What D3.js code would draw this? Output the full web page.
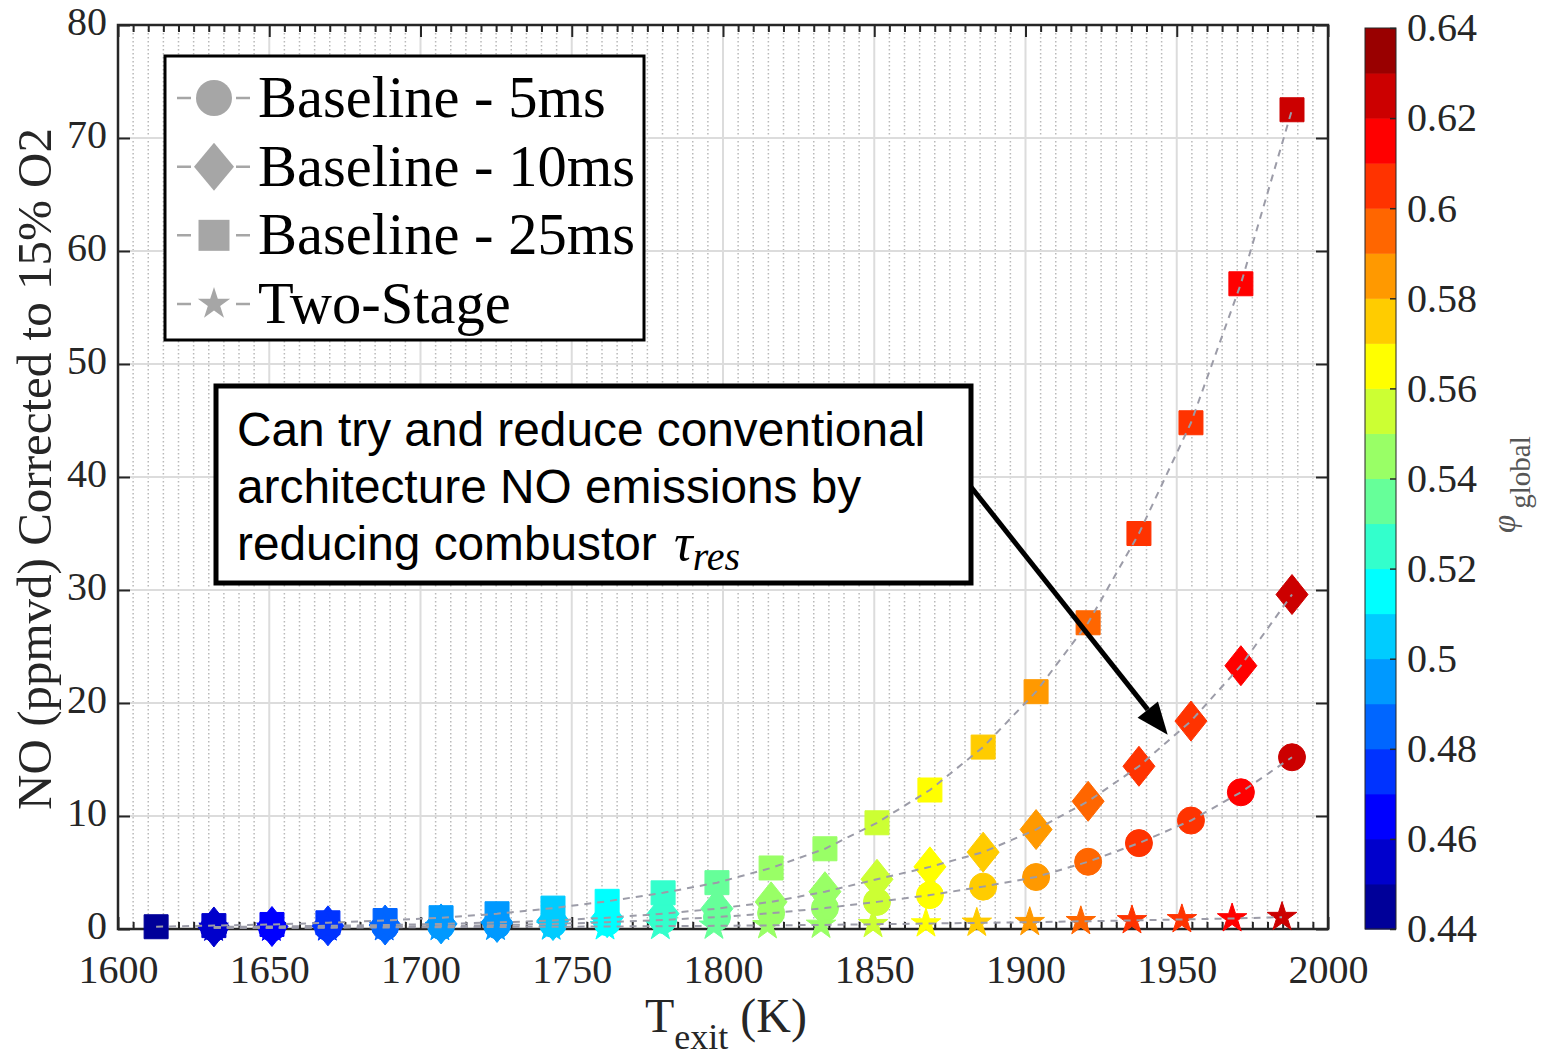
<!DOCTYPE html>
<html>
<head>
<meta charset="utf-8">
<script src="https://cdn.jsdelivr.net/npm/d3@7"></script>
<style>
  body { margin: 0; background: #fff; }
  svg { display: block; }
</style>
</head>
<body>
<svg id="chart" width="1545" height="1060"></svg>
<script>
// ---- data ---------------------------------------------------------------
// Exit temperature (K) of the baseline combustor, one entry per phi_global
const tBaseline = [1612.6, 1631.7, 1650.9, 1669.4, 1688.3, 1706.8, 1725.3, 1743.8, 1761.7, 1780.2, 1798.0,
                   1815.9, 1833.7, 1850.9, 1868.4, 1886.0, 1903.5, 1920.7, 1937.5, 1954.7, 1971.2, 1988.1];
// Global equivalence ratio for each operating point
const phiGlobal = [0.444, 0.453, 0.462, 0.471, 0.481, 0.492, 0.499, 0.507, 0.515, 0.524, 0.533,
                   0.541, 0.549, 0.557, 0.566, 0.575, 0.584, 0.593, 0.601, 0.609, 0.617, 0.626];
// NO (ppmvd @ 15% O2), baseline with 25 ms residence time (all points)
const no25ms = [0.2, 0.3, 0.4, 0.55, 0.75, 1.0, 1.35, 1.85, 2.45, 3.2, 4.1,
                5.4, 7.1, 9.4, 12.3, 16.1, 21.0, 27.1, 35.0, 44.8, 57.1, 72.5];
// Remaining series start at the second operating point
const no10ms = [0.18, 0.22, 0.28, 0.35, 0.45, 0.58, 0.75, 1.0, 1.35, 1.8,
                2.4, 3.3, 4.4, 5.5, 6.8, 8.8, 11.3, 14.4, 18.4, 23.3, 29.6];
const no5ms = [0.1, 0.12, 0.15, 0.2, 0.26, 0.34, 0.45, 0.6, 0.8, 1.05,
               1.4, 1.85, 2.4, 3.0, 3.75, 4.6, 5.95, 7.6, 9.6, 12.1, 15.2];
// Two-stage architecture: slightly lower exit temperature at the same phi
const tTwoStage = [1631.6, 1650.7, 1669.2, 1688.0, 1706.4, 1724.8, 1743.2, 1761.0, 1779.3, 1797.0,
                   1814.7, 1832.4, 1849.6, 1867.1, 1883.9, 1901.4, 1918.3, 1935.2, 1951.7, 1968.3, 1984.8];
const noTwoStage = [0.1, 0.1, 0.12, 0.14, 0.16, 0.18, 0.2, 0.22, 0.25, 0.28,
                    0.32, 0.36, 0.42, 0.48, 0.54, 0.6, 0.68, 0.76, 0.85, 0.93, 1.05];

const xTicks = [1600, 1650, 1700, 1750, 1800, 1850, 1900, 1950, 2000];
const yTicks = [0, 10, 20, 30, 40, 50, 60, 70, 80];
const cTicks = [0.44, 0.46, 0.48, 0.5, 0.52, 0.54, 0.56, 0.58, 0.6, 0.62, 0.64];
const legendLabels = ["Baseline - 5ms", "Baseline - 10ms", "Baseline - 25ms", "Two-Stage"];
const noteLines = ["Can try and reduce conventional", "architecture NO emissions by", "reducing combustor "];

// 20-level jet colormap
const jet20 = ["#000099", "#0000cc", "#0000ff", "#0033ff", "#0066ff", "#0099ff", "#00ccff", "#00ffff",
               "#33ffcc", "#66ff99", "#99ff66", "#ccff33", "#ffff00", "#ffcc00", "#ff9900", "#ff6600",
               "#ff3300", "#ff0000", "#cc0000", "#990000"];

// ---- layout -------------------------------------------------------------
const svg = d3.select("#chart");
const P = { left: 118, right: 1328, top: 25, bottom: 929 };
const serif = "'Liberation Serif', 'Times New Roman', serif";
const sans = "'Liberation Sans', Arial, sans-serif";
const axisInk = "#262626";

const x = d3.scaleLinear().domain([1600, 2000]).range([P.left, P.right]);
const y = d3.scaleLinear().domain([0, 80]).range([P.bottom, P.top]);
const color = d3.scaleQuantize().domain([0.44, 0.64]).range(jet20);

// ---- grid ---------------------------------------------------------------
const grid = svg.append("g");
const minorX = d3.range(1605, 2000, 5).filter(v => v % 50 !== 0);
grid.selectAll("line.minor").data(minorX).join("line")
  .attr("x1", d => x(d)).attr("x2", d => x(d))
  .attr("y1", P.top).attr("y2", P.bottom)
  .attr("stroke", "#b9b9b9").attr("stroke-width", 1.5)
  .attr("stroke-dasharray", "1.5,2.5");
grid.selectAll("line.mx").data(xTicks.slice(1, -1)).join("line")
  .attr("x1", d => x(d)).attr("x2", d => x(d))
  .attr("y1", P.top).attr("y2", P.bottom)
  .attr("stroke", "#dcdcdc").attr("stroke-width", 2);
grid.selectAll("line.my").data(yTicks.slice(1, -1)).join("line")
  .attr("x1", P.left).attr("x2", P.right)
  .attr("y1", d => y(d)).attr("y2", d => y(d))
  .attr("stroke", "#dcdcdc").attr("stroke-width", 2);

// ---- axes ---------------------------------------------------------------
function styleAxis(g) {
  g.select(".domain").remove();
  g.selectAll(".tick line").attr("stroke", axisInk).attr("stroke-width", 2);
  g.selectAll(".tick text").attr("fill", axisInk).attr("font-family", serif).attr("font-size", 40);
}
svg.append("g").attr("transform", `translate(0,${P.bottom})`)
  .call(d3.axisBottom(x).tickValues(xTicks).tickSize(-12).tickPadding(26).tickFormat(d3.format("d")))
  .call(styleAxis);
svg.append("g").attr("transform", `translate(0,${P.bottom})`)
  .call(d3.axisBottom(x).tickValues(minorX).tickSize(-7).tickFormat(""))
  .call(styleAxis);
svg.append("g").attr("transform", `translate(0,${P.top})`)
  .call(d3.axisTop(x).tickValues(xTicks).tickSize(-12).tickFormat(""))
  .call(styleAxis);
svg.append("g").attr("transform", `translate(0,${P.top})`)
  .call(d3.axisTop(x).tickValues(minorX).tickSize(-7).tickFormat(""))
  .call(styleAxis);
svg.append("g").attr("transform", `translate(${P.left},0)`)
  .call(d3.axisLeft(y).tickValues(yTicks).tickSize(-12).tickPadding(11).tickFormat(d3.format("d")))
  .call(styleAxis)
  .call(g => g.selectAll(".tick text").attr("dy", "0.24em"));
svg.append("g").attr("transform", `translate(${P.right},0)`)
  .call(d3.axisRight(y).tickValues(yTicks).tickSize(-12).tickFormat(""))
  .call(styleAxis);
svg.append("rect")
  .attr("x", P.left).attr("y", P.top)
  .attr("width", P.right - P.left).attr("height", P.bottom - P.top)
  .attr("fill", "none").attr("stroke", axisInk).attr("stroke-width", 2.5);

// axis titles
const xt = svg.append("text")
  .attr("x", 645).attr("y", 1032)
  .attr("font-family", serif).attr("font-size", 48).attr("fill", axisInk);
xt.append("tspan").text("T");
xt.append("tspan").attr("font-size", 36).attr("dy", 17).text("exit");
xt.append("tspan").attr("dy", -17).text(" (K)");

svg.append("text")
  .attr("transform", "translate(51,469) rotate(-90)")
  .attr("text-anchor", "middle")
  .attr("font-family", serif).attr("font-size", 49).attr("fill", axisInk)
  .text("NO (ppmvd) Corrected to 15% O2");

// ---- series -------------------------------------------------------------
const pts = (ts, vs, offset) => ts.map((t, i) => ({ t, v: vs[i], phi: phiGlobal[i + offset] }));
const s5 = pts(tBaseline.slice(1), no5ms, 1);
const s10 = pts(tBaseline.slice(1), no10ms, 1);
const s25 = pts(tBaseline, no25ms, 0);
const sTwo = pts(tTwoStage, noTwoStage, 1);

const diamondPath = (hw, hh) => `M0,${-hh}L${hw},0L0,${hh}L${-hw},0Z`;
const circlePath = d3.symbol(d3.symbolCircle, Math.PI * 13.5 * 13.5)();
const squarePath = d3.symbol(d3.symbolSquare, 24 * 24)();
const starPath = d3.symbol(d3.symbolStar, (15.5 * 15.5) / 0.8908130915292852)();
const dataDiamond = diamondPath(16, 20);

const series = [
  { data: s5, shape: circlePath },
  { data: s10, shape: dataDiamond },
  { data: s25, shape: squarePath },
  { data: sTwo, shape: starPath }
];

const marks = svg.append("g");
series.forEach(s => {
  marks.append("g").selectAll("path").data(s.data).join("path")
    .attr("transform", d => `translate(${x(d.t)},${y(d.v)})`)
    .attr("d", s.shape)
    .attr("fill", d => color(d.phi))
    .attr("stroke", d => color(d.phi))
    .attr("stroke-width", 1);
});

const line = d3.line().x(d => x(d.t)).y(d => y(d.v));
const lines = svg.append("g");
series.forEach(s => {
  lines.append("path").datum(s.data)
    .attr("d", line)
    .attr("fill", "none")
    .attr("stroke", "#9c9ca8")
    .attr("stroke-width", 2)
    .attr("stroke-dasharray", "7,6");
});

// ---- colorbar -----------------------------------------------------------
const cb = { x: 1365, w: 31, top: 28, bottom: 929 };
const yc = d3.scaleLinear().domain([0.44, 0.64]).range([cb.bottom, cb.top]);
const bands = jet20.map((c, i) => ({ c, lo: 0.44 + i * 0.01, hi: 0.45 + i * 0.01 }));
svg.append("g").selectAll("rect").data(bands).join("rect")
  .attr("x", cb.x).attr("width", cb.w)
  .attr("y", d => yc(d.hi)).attr("height", d => yc(d.lo) - yc(d.hi) + 0.5)
  .attr("fill", d => d.c);
svg.append("rect")
  .attr("x", cb.x).attr("y", cb.top).attr("width", cb.w).attr("height", cb.bottom - cb.top)
  .attr("fill", "none").attr("stroke", axisInk).attr("stroke-width", 1);
svg.append("g").attr("transform", `translate(${cb.x + cb.w},0)`)
  .call(d3.axisRight(yc).tickValues(cTicks).tickSize(-6).tickPadding(11).tickFormat(d3.format("~g")))
  .call(g => {
    g.select(".domain").remove();
    g.selectAll(".tick line").attr("stroke", axisInk).attr("stroke-width", 1.5);
    g.selectAll(".tick text").attr("fill", axisInk).attr("font-family", serif).attr("font-size", 40);
  });
const pl = svg.append("text")
  .attr("transform", "translate(1515,533) rotate(-90)")
  .attr("font-family", serif).attr("fill", "#555");
pl.append("tspan").attr("font-size", 33).attr("font-style", "italic").text("\u03C6");
pl.append("tspan").attr("font-size", 29).attr("dx", 6).attr("dy", 15).text("global");

// ---- legend -------------------------------------------------------------
const lg = svg.append("g");
lg.append("rect")
  .attr("x", 165).attr("y", 56).attr("width", 479).attr("height", 284)
  .attr("fill", "#fff").attr("stroke", "#000").attr("stroke-width", 3);
const legendShapes = [
  d3.symbol(d3.symbolCircle, Math.PI * 18 * 18)(),
  diamondPath(20, 24),
  d3.symbol(d3.symbolSquare, 31 * 31)(),
  d3.symbol(d3.symbolStar, (17 * 17) / 0.8908130915292852)()
];
const rowY = d3.scalePoint().domain(legendLabels).range([98, 304]);
const rows = lg.selectAll("g.row").data(legendLabels).join("g")
  .attr("transform", d => `translate(0,${rowY(d)})`);
rows.append("line")
  .attr("x1", 177).attr("x2", 250).attr("y1", 0).attr("y2", 0)
  .attr("stroke", "#a6a6a6").attr("stroke-width", 2.5)
  .attr("stroke-dasharray", "14,45");
rows.append("path")
  .attr("transform", "translate(214,0)")
  .attr("d", (d, i) => legendShapes[i])
  .attr("fill", "#a6a6a6");
rows.append("text")
  .attr("x", 258).attr("y", 19)
  .attr("font-family", serif).attr("font-size", 58.5).attr("fill", "#000")
  .text(d => d);

// ---- annotation ---------------------------------------------------------
const note = svg.append("g");
note.append("rect")
  .attr("x", 216).attr("y", 386).attr("width", 755).attr("height", 197)
  .attr("fill", "#fff").attr("stroke", "#000").attr("stroke-width", 5);
const nt = note.selectAll("text").data(noteLines).join("text")
  .attr("x", 237).attr("y", (d, i) => 446 + i * 57)
  .attr("font-family", sans).attr("font-size", 47.8).attr("fill", "#000")
  .attr("xml:space", "preserve");
nt.append("tspan").text(d => d);
nt.filter((d, i) => i === 2).call(t => {
  t.append("tspan").attr("font-family", serif).attr("font-style", "italic").attr("font-size", 52)
    .attr("dx", 4).text("\u03C4");
  t.append("tspan").attr("font-family", serif).attr("font-style", "italic").attr("font-size", 40)
    .attr("dy", 10).text("res");
});

// arrow pointing at the 10 ms curve near 1950 K
const tail = [971, 487];
const tip = [x(1947), y(17.2)];
const ang = Math.atan2(tip[1] - tail[1], tip[0] - tail[0]);
const headL = 32, headW = 13;
const base = [tip[0] - headL * Math.cos(ang), tip[1] - headL * Math.sin(ang)];
note.append("line")
  .attr("x1", tail[0]).attr("y1", tail[1]).attr("x2", base[0]).attr("y2", base[1])
  .attr("stroke", "#000").attr("stroke-width", 5);
note.append("path")
  .attr("d", `M${tip[0]},${tip[1]}L${base[0] - headW * Math.sin(ang)},${base[1] + headW * Math.cos(ang)}L${base[0] + headW * Math.sin(ang)},${base[1] - headW * Math.cos(ang)}Z`)
  .attr("fill", "#000");
</script>
</body>
</html>
